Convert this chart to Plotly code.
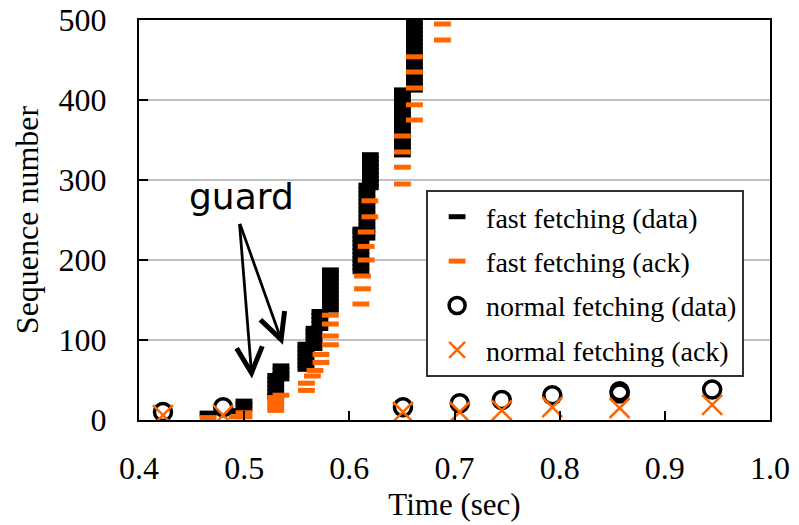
import plotly.graph_objects as go

# ---------------- data ----------------
fast_data_t = (
    [0.4656, 0.4932, 0.4998, 0.4998, 0.4998]
    + [0.530] * 6 + [0.535] * 4
    + [0.5587] * 7 + [0.5664] * 6 + [0.572] * 5 + [0.582] * 11
    + [0.611] * 12 + [0.6167] * 14 + [0.620] * 9
    + [0.6505] * 17 + [0.6619] * 18
)
fast_data_seq = (
    [8, 11, 14, 19, 23]
    + [30, 35, 40, 45, 50, 55] + [52, 57, 62, 67]
    + [64, 69, 74, 79, 84, 89, 94]
    + [90, 95, 100, 105, 110, 114]
    + [115, 120, 125, 130, 135]
    + [138, 143, 148, 153, 158, 163, 168, 173, 178, 183, 187]
    + [186, 191, 196, 201, 206, 211, 216, 221, 226, 231, 236, 238]
    + [228, 233, 238, 243, 248, 253, 258, 263, 268, 273, 278, 283, 288, 293]
    + [291, 296, 301, 306, 311, 316, 321, 326, 331]
    + [332, 337, 342, 347, 352, 357, 362, 367, 372, 377, 382, 387, 392, 397, 402, 407, 412]
    + [413, 418, 423, 428, 433, 438, 443, 448, 453, 458, 463, 468, 473, 478, 483, 488, 493, 498]
)

fast_ack_t = [0.4656, 0.4932, 0.4998, 0.4998,
              0.530, 0.530, 0.530, 0.530, 0.530, 0.535,
              0.5592, 0.5592, 0.5649, 0.5673, 0.573, 0.573,
              0.582, 0.582, 0.582, 0.582,
              0.611, 0.6125, 0.6125, 0.616, 0.616, 0.616, 0.6195, 0.6195,
              0.6505, 0.6505, 0.6505, 0.6505,
              0.6619, 0.6619, 0.6619, 0.6619, 0.6619,
              0.6885, 0.6885]
fast_ack_seq = [3, 4, 4, 9,
                12, 16, 20, 24, 28, 31,
                37, 46, 55, 62, 72, 82,
                94, 105, 120, 131,
                145, 164, 180, 200, 217, 235, 254, 274,
                295, 316, 335, 355,
                375, 394, 415, 435, 454,
                475, 495]

normal_data_t = [0.4228, 0.480, 0.651, 0.705, 0.745, 0.793, 0.857, 0.857, 0.945]
normal_data_seq = [10, 16, 16, 21, 25, 31, 33, 36, 38]

normal_ack_t = [0.4228, 0.480, 0.651, 0.705, 0.745, 0.793, 0.857, 0.945]
normal_ack_seq = [6, 6, 10, 10, 12, 16, 15, 19]

x_ticks = [0.4, 0.5, 0.6, 0.7, 0.8, 0.9, 1.0]
x_tick_labels = ["0.4", "0.5", "0.6", "0.7", "0.8", "0.9", "1.0"]
y_ticks = [0, 100, 200, 300, 400, 500]

ORANGE = "#FF6600"
SERIF = "Liberation Serif"

fig = go.Figure()
fig.add_trace(go.Scatter(
    x=fast_data_t, y=fast_data_seq, mode="markers", name="fast fetching (data)",
    legendgroup="a",
    marker=dict(symbol="line-ew", size=12, color="black",
                line=dict(color="black", width=6))))
fig.add_trace(go.Scatter(
    x=fast_ack_t, y=fast_ack_seq, mode="markers", name="fast fetching (ack)",
    legendgroup="b",
    marker=dict(symbol="line-ew", size=12, color=ORANGE,
                line=dict(color=ORANGE, width=5))))
fig.add_trace(go.Scatter(
    x=normal_data_t, y=normal_data_seq, mode="markers", name="normal fetching (data)",
    legendgroup="c",
    marker=dict(symbol="circle-open", size=17, color="black",
                line=dict(color="black", width=3.5))))
fig.add_trace(go.Scatter(
    x=normal_ack_t, y=normal_ack_seq, mode="markers", name="normal fetching (ack)",
    legendgroup="d",
    marker=dict(symbol="x-thin", size=20, color=ORANGE,
                line=dict(color=ORANGE, width=2.5))))

# "guard" label and arrows
fig.add_annotation(x=0.497, y=279, xref="x", yref="y", text="guard",
                   showarrow=False, font=dict(family="DejaVu Sans", size=36, color="black"))
for hx, hy in [(0.5074, 52), (0.5369, 94)]:
    fig.add_annotation(x=hx, y=hy, xref="x", yref="y", ax=0.4955, ay=247,
                       axref="x", ayref="y", text="", showarrow=True,
                       arrowhead=5, arrowsize=1.8, arrowwidth=2.8,
                       arrowcolor="black", standoff=0, startstandoff=0)

fig.update_layout(
    width=799, height=525,
    margin=dict(l=139, r=29, t=20, b=105),
    paper_bgcolor="white", plot_bgcolor="white",
    font=dict(family=SERIF, color="black"),
    showlegend=True,
    legend=dict(x=0.455, y=0.575, xanchor="left", yanchor="top",
                bgcolor="white", bordercolor="#333333", borderwidth=2,
                font=dict(family=SERIF, size=28, color="black"),
                tracegroupgap=5, itemwidth=48),
    xaxis=dict(range=[0.4, 1.0], tickvals=x_ticks, ticktext=x_tick_labels,
               ticks="inside", ticklen=9, tickwidth=1.5, tickcolor="black",
               showline=True, linecolor="black", linewidth=2, mirror=True,
               showgrid=False, zeroline=False, automargin=False,
               ticklabeloverflow="allow",
               tickfont=dict(family=SERIF, size=32, color="black"),
               ticklabelstandoff=19,
               title=dict(text="Time (sec)", font=dict(family=SERIF, size=31),
                          standoff=8)),
    yaxis=dict(range=[0, 500], tickvals=y_ticks,
               ticks="inside", ticklen=9, tickwidth=1.5, tickcolor="black",
               showline=True, linecolor="black", linewidth=2, mirror=True,
               showgrid=True, gridcolor="#c0c0c0", gridwidth=2, zeroline=False,
               automargin=False, ticklabeloverflow="allow",
               tickfont=dict(family=SERIF, size=32, color="black"),
               ticklabelstandoff=24,
               title=dict(text="Sequence number", font=dict(family=SERIF, size=32),
                          standoff=10)),
)

fig.write_html("out.html",
               config={"displayModeBar": False},
               post_script="document.body.style.margin='0';")
